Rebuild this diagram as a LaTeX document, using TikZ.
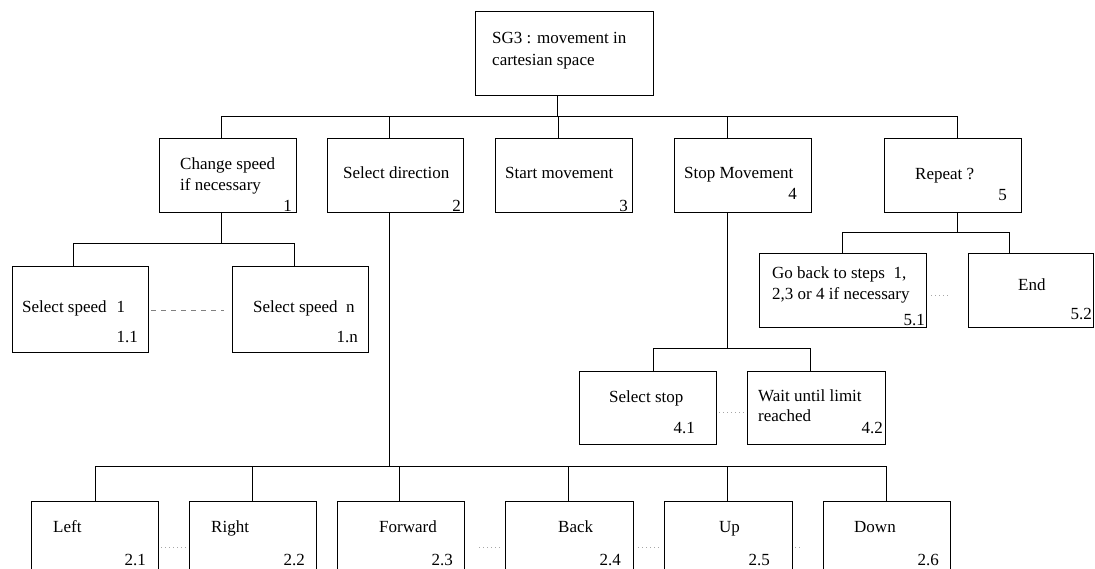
\documentclass[tikz,border=0pt]{standalone}
\usepackage{fontspec}
\setmainfont{Liberation Serif}
\begin{document}
\begin{tikzpicture}[x=1pt,y=-1pt,
  box/.style={draw, line width=0.9pt, inner sep=0pt},
  conn/.style={line width=1pt},
  lbl/.style={anchor=base west, inner sep=0pt, font=\fontsize{17}{21}\selectfont},
  num/.style={anchor=base east, inner sep=0pt, font=\fontsize{17}{21}\selectfont},
  gapdash/.style={gray, line width=0.6pt, dash pattern=on 5pt off 5pt},
  gapdot/.style={gray!70, line width=0.6pt, dash pattern=on 1pt off 3pt}]
\newcommand\boxat[5]{\node[box, minimum width={#4-#2}, minimum height={#5-#3}] (#1) at ({(#2+#4)/2},{(#3+#5)/2}) {};}
\clip (0,0) rectangle (1095,568);
\fill[white] (0,0) rectangle (1095,568);

% boxes
\boxat{root}{475}{11}{653}{95}
\boxat{b1}{159}{138}{296}{212}
\boxat{b2}{327}{138}{463}{212}
\boxat{b3}{495}{138}{632}{212}
\boxat{b4}{674}{138}{811}{212}
\boxat{b5}{884}{138}{1021}{212}
\boxat{b11}{12}{266}{148}{352}
\boxat{b1n}{232}{266}{368}{352}
\boxat{b41}{579}{371}{716}{444}
\boxat{b42}{747}{371}{885}{444}
\boxat{b51}{759}{253}{926}{327}
\boxat{b52}{968}{253}{1093}{327}
\boxat{c1}{31}{501}{158}{580}
\boxat{c2}{189}{501}{316}{580}
\boxat{c3}{337}{501}{464}{580}
\boxat{c4}{505}{501}{633}{580}
\boxat{c5}{664}{501}{792}{580}
\boxat{c6}{823}{501}{950}{580}

% texts
\node[lbl] (troota) at (492,43) {SG3 : movement in};
\node[lbl] (trootb) at (492,65) {cartesian space};
\node[lbl] (t1a) at (180,169) {Change speed};
\node[lbl] (t1b) at (180,190) {if necessary};
\node[num] (n1) at (292,211) {1};
\node[lbl] (t2) at (343,178) {Select direction};
\node[num] (n2) at (461,211) {2};
\node[lbl] (t3) at (505,178) {Start movement};
\node[num] (n3) at (628,211) {3};
\node[lbl] (t4) at (684,178) {Stop Movement};
\node[num] (n4) at (797,199) {4};
\node[lbl] (t5) at (915,179) {Repeat ?};
\node[num] (n5) at (1007,200) {5};
\node[lbl] (t11) at (22,312) {Select speed\hspace{10pt}1};
\node[num] (n11) at (138,342) {1.1};
\node[lbl] (t1n) at (253,312) {Select speed\ \ n};
\node[num] (n1n) at (358,342) {1.n};
\node[lbl] (t41) at (609,402) {Select stop};
\node[num] (n41) at (695,433) {4.1};
\node[lbl] (t42a) at (758,401) {Wait until limit};
\node[lbl] (t42b) at (758,421) {reached};
\node[num] (n42) at (883,433) {4.2};
\node[lbl] (t51a) at (772,278) {Go back to steps\ \ 1,};
\node[lbl] (t51b) at (772,299) {2,3 or 4 if necessary};
\node[num] (n51) at (925,325) {5.1};
\node[lbl] (t52) at (1018,290) {End};
\node[num] (n52) at (1092,319) {5.2};
\node[lbl] (tc1) at (53,532) {Left};
\node[num] (nc1) at (146,565) {2.1};
\node[lbl] (tc2) at (211,532) {Right};
\node[num] (nc2) at (305,565) {2.2};
\node[lbl] (tc3) at (379,532) {Forward};
\node[num] (nc3) at (453,565) {2.3};
\node[lbl] (tc4) at (558,532) {Back};
\node[num] (nc4) at (621,565) {2.4};
\node[lbl] (tc5) at (719,532) {Up};
\node[num] (nc5) at (770,565) {2.5};
\node[lbl] (tc6) at (854,532) {Down};
\node[num] (nc6) at (939,565) {2.6};

% junction positions
\coordinate (busA) at (0,116);
\coordinate (busB) at (0,243);
\coordinate (busC) at (0,232);
\coordinate (busD) at (0,348);
\coordinate (busE) at (0,466);
\coordinate (v0) at (557,0);
\coordinate (v1) at (221,0);
\coordinate (v2) at (389,0);
\coordinate (v3) at (558,0);
\coordinate (v4) at (727,0);
\coordinate (v5) at (957,0);
\coordinate (w11) at (73,0);
\coordinate (w1n) at (294,0);
\coordinate (w51) at (842,0);
\coordinate (w52) at (1009,0);
\coordinate (w41) at (653,0);
\coordinate (w42) at (810,0);
\coordinate (u1) at (95,0);
\coordinate (u2) at (252,0);
\coordinate (u3) at (399,0);
\coordinate (u4) at (568,0);
\coordinate (u5) at (727,0);
\coordinate (u6) at (886,0);

% level 1
\draw[conn] (root.south -| v0) -- (v0 |- busA);
\draw[conn] (v1 |- busA) -- (v5 |- busA);
\foreach \i in {1,...,5} {\draw[conn] (v\i |- busA) -- (b\i.north -| v\i);}

% step 1 children
\draw[conn] (b1.south -| v1) -- (v1 |- busB);
\draw[conn] (w11 |- busB) -- (w1n |- busB);
\draw[conn] (w11 |- busB) -- (b11.north -| w11);
\draw[conn] (w1n |- busB) -- (b1n.north -| w1n);

% step 5 children
\draw[conn] (b5.south -| v5) -- (v5 |- busC);
\draw[conn] (w51 |- busC) -- (w52 |- busC);
\draw[conn] (w51 |- busC) -- (b51.north -| w51);
\draw[conn] (w52 |- busC) -- (b52.north -| w52);

% step 4 children
\draw[conn] (b4.south -| v4) -- (v4 |- busD);
\draw[conn] (w41 |- busD) -- (w42 |- busD);
\draw[conn] (w41 |- busD) -- (b41.north -| w41);
\draw[conn] (w42 |- busD) -- (b42.north -| w42);

% step 2 children
\draw[conn] (b2.south -| v2) -- (v2 |- busE);
\draw[conn] (u1 |- busE) -- (u6 |- busE);
\foreach \i in {1,...,6} {\draw[conn] (u\i |- busE) -- (c\i.north -| u\i);}

% alternatives between siblings
\draw[gapdash] ([yshift=-1pt]b11.east) ++(3,0) -- ([yshift=-1pt,xshift=-8pt]b1n.west);
\draw[gapdot] ([yshift=-5pt,xshift=3pt]b41.east) -- ([yshift=-5pt,xshift=-3pt]b42.west);
\draw[gapdot] ([yshift=-5pt,xshift=5pt]b51.east) -- ([yshift=-5pt,xshift=-20pt]b52.west);
\draw[gapdot] ([yshift=-7pt,xshift=3pt]c1.east) -- ([yshift=-7pt,xshift=-2pt]c2.west);
\draw[gapdot] ([yshift=-7pt,xshift=15pt]c3.east) -- ([yshift=-7pt,xshift=-4pt]c4.west);
\draw[gapdot] ([yshift=-7pt,xshift=5pt]c4.east) -- ([yshift=-7pt,xshift=-4pt]c5.west);
\draw[gapdot] ([yshift=-7pt,xshift=3pt]c5.east) -- ([yshift=-7pt,xshift=-22pt]c6.west);
\end{tikzpicture}
\end{document}
